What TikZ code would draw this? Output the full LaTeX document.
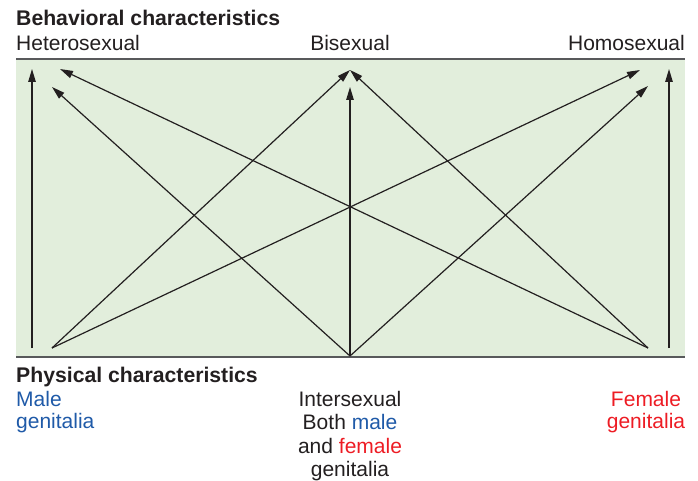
\documentclass[tikz,border=0pt]{standalone}
\usepackage{fontspec}
\setmainfont{Liberation Sans}
\usetikzlibrary{arrows.meta}
\definecolor{bg}{HTML}{E2EEDC}
\definecolor{txt}{HTML}{231F20}
\definecolor{mblue}{HTML}{1F5AA8}
\definecolor{fred}{HTML}{ED1C24}
\definecolor{rulec}{HTML}{58595B}
\begin{document}
\begin{tikzpicture}[x=1pt,y=-1pt,
  arr/.style={draw=txt, line width=1.2pt, -{Triangle[length=13pt,width=7.5pt]}},
  lbl/.style={inner sep=0pt, font=\fontsize{21}{23}\selectfont, text=txt},
  hdr/.style={lbl, font=\fontsize{21.2}{23}\selectfont\bfseries}]
\useasboundingbox (0,0) rectangle (698,481);
\fill[bg] (16,59) rectangle (685,357);
\coordinate (tl) at (16,59);
\coordinate (tr) at (685,59);
\coordinate (bl) at (16,357);
\coordinate (br) at (685,357);
\draw[rulec, line width=1.6pt] (tl) -- (tr);
\draw[rulec, line width=1.6pt] (bl) -- (br);
% labels
\node[hdr, anchor=base west] (beh) at (16,26) {Behavioral characteristics};
\node[lbl, anchor=base west] (het) at (16,51) {Heterosexual};
\node[lbl, anchor=base] (bis) at (350,51) {Bisexual};
\node[lbl, anchor=base east] (hom) at (685,51) {Homosexual};
\node[hdr, anchor=base west] (phy) at (16,382) {Physical characteristics};
\node[lbl, anchor=base west, text=mblue] (male1) at (16,406) {Male};
\node[lbl, anchor=base west, text=mblue] (male2) at (16,428.5) {genitalia};
\node[lbl, anchor=base] (int1) at (350,406) {Intersexual};
\node[lbl, anchor=base] (int2) at (350,429.5) {Both \textcolor{mblue}{male}};
\node[lbl, anchor=base] (int3) at (350,453) {and \textcolor{fred}{female}};
\node[lbl, anchor=base] (int4) at (350,476.5) {genitalia};
\node[lbl, anchor=base, text=fred] (fem1) at (646,406) {Female};
\node[lbl, anchor=base, text=fred] (fem2) at (646,428.5) {genitalia};
% endpoints
\coordinate (mL) at (32,348);
\coordinate (Lup) at (32,69);
\coordinate (mP) at (52,348);
\coordinate (iP) at (350,356);
\coordinate (fP) at (648,348);
\coordinate (fR) at (669,348);
\coordinate (Rup) at (669,69);
\coordinate (het1) at (60,69);
\coordinate (het2) at (52,87);
\coordinate (bi1) at (350,70);
\coordinate (bi2) at (350,87);
\coordinate (hom1) at (640,70);
\coordinate (hom2) at (648,86);
% arrows
\draw[arr] (mL) -- (Lup);
\draw[arr] (fR) -- (Rup);
\draw[arr] (fP) -- (het1);
\draw[arr] (iP) -- (het2);
\draw[arr] (mP) -- (bi1);
\draw[arr] (fP) -- (bi1);
\draw[arr] (iP) -- (bi2);
\draw[arr] (mP) -- (hom1);
\draw[arr] (iP) -- (hom2);
\end{tikzpicture}
\end{document}
